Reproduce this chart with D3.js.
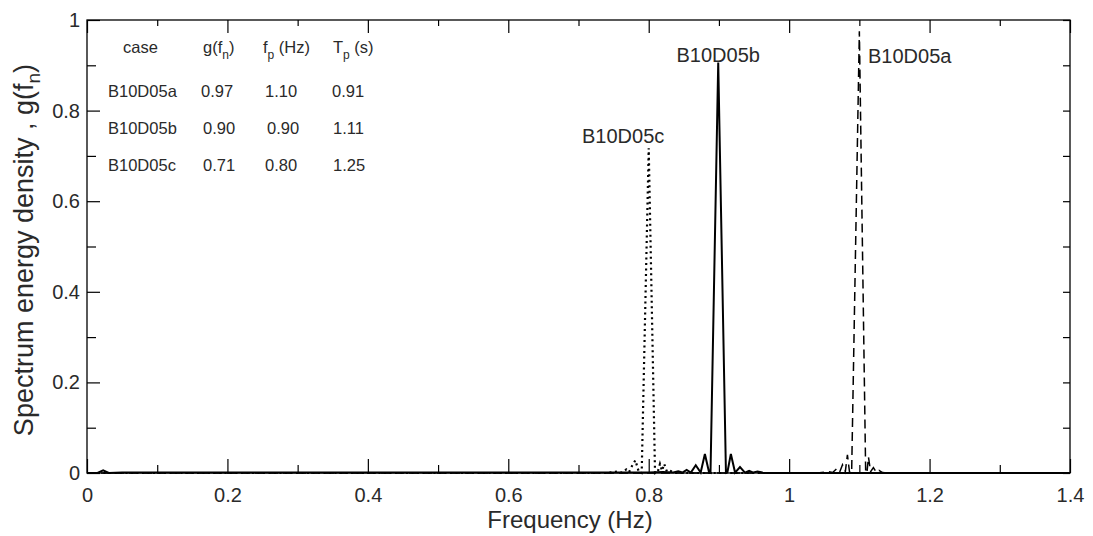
<!DOCTYPE html>
<html lang="en">
<head>
    <meta charset="UTF-8">
    <title>Spectrum energy density</title>
    <script src="https://d3js.org/d3.v7.min.js"></script>
    <style>
        body { margin: 0; background: #fff; }
        text { font-family: "Liberation Sans", Arial, sans-serif; fill: #2a2a2a; }
    </style>
</head>
<body>
    <div id="chart"></div>

    <script>
        // datos
        var xTicks = [0, 0.2, 0.4, 0.6, 0.8, 1, 1.2, 1.4];
        var xTickLabels = ["0", "0.2", "0.4", "0.6", "0.8", "1", "1.2", "1.4"];
        var xMinor = [0.1, 0.3, 0.5, 0.7, 0.9, 1.1, 1.3];
        var yTicks = [0, 0.2, 0.4, 0.6, 0.8, 1];
        var yTickLabels = ["0", "0.2", "0.4", "0.6", "0.8", "1"];
        var yMinor = [0.1, 0.3, 0.5, 0.7, 0.9];

        // B10D05a (dashed)
        var freqA = [0, 1.04, 1.055, 1.062, 1.068, 1.072, 1.076, 1.080, 1.083, 1.086, 1.089, 1.100, 1.109, 1.111, 1.113, 1.116, 1.120, 1.124, 1.128, 1.133, 1.14, 1.4];
        var valA  = [0, 0, 0.003, 0.001, 0.010, 0.002, 0.018, 0.003, 0.040, 0.002, 0, 0.975, 0, 0.004, 0.035, 0.003, 0.012, 0.002, 0.006, 0.001, 0, 0];

        // B10D05b (solid)
        var freqB = [0, 0.015, 0.023, 0.031, 0.05, 0.80, 0.82, 0.835, 0.842, 0.848, 0.854, 0.860, 0.867, 0.874, 0.880, 0.886, 0.888, 0.899, 0.910, 0.912, 0.917, 0.923, 0.930, 0.937, 0.943, 0.949, 0.955, 0.962, 0.97, 1.4];
        var valB  = [0, 0, 0.006, 0, 0.001, 0.001, 0.002, 0.001, 0.004, 0.001, 0.007, 0.001, 0.017, 0.001, 0.042, 0.001, 0, 0.906, 0, 0.001, 0.042, 0.001, 0.013, 0.001, 0.005, 0.001, 0.003, 0.001, 0, 0];

        // B10D05c (dotted)
        var freqC = [0, 0.74, 0.755, 0.762, 0.768, 0.772, 0.776, 0.781, 0.786, 0.790, 0.800, 0.809, 0.813, 0.816, 0.819, 0.822, 0.826, 0.830, 0.84, 1.4];
        var valC  = [0, 0, 0.003, 0.001, 0.008, 0.002, 0.015, 0.028, 0.002, 0, 0.717, 0, 0.003, 0.020, 0.005, 0.020, 0.003, 0.005, 0, 0];

        // tabla de la esquina
        var tableCases = ["B10D05a", "B10D05b", "B10D05c"];
        var tableG  = ["0.97", "0.90", "0.71"];
        var tableFp = ["1.10", "0.90", "0.80"];
        var tableTp = ["0.91", "1.11", "1.25"];

        var width = 1093;
        var height = 536;
        var mLeft = 87, mRight = 1070, mTop = 20, mBottom = 473;

        var svg = d3.select("#chart")
                    .append("svg")
                    .attr("width", width)
                    .attr("height", height);

        var x = d3.scaleLinear().domain([0, 1.4]).range([mLeft, mRight]);
        var y = d3.scaleLinear().domain([0, 1]).range([mBottom, mTop]);

        // curvas
        var line = d3.line()
                     .x(function(d) { return x(d[0]); })
                     .y(function(d) { return y(d[1]); });

        function pairs(f, v) { return f.map(function(d, i) { return [d, v[i]]; }); }

        svg.append("path")
           .datum(pairs(freqA, valA))
           .attr("d", line)
           .attr("fill", "none")
           .attr("stroke", "#000")
           .attr("stroke-width", 1.5)
           .attr("stroke-dasharray", "9,5");

        svg.append("path")
           .datum(pairs(freqC, valC))
           .attr("d", line)
           .attr("fill", "none")
           .attr("stroke", "#000")
           .attr("stroke-width", 2.2)
           .attr("stroke-dasharray", "2,3.5");

        svg.append("path")
           .datum(pairs(freqB, valB))
           .attr("d", line)
           .attr("fill", "none")
           .attr("stroke", "#000")
           .attr("stroke-width", 2);

        // ejes (ticks hacia adentro)
        var fmtX = function(d) { return xTickLabels[xTicks.indexOf(d)]; };
        var fmtY = function(d) { return yTickLabels[yTicks.indexOf(d)]; };

        function styleAxis(g) {
            g.select(".domain").remove();
            g.selectAll("line").attr("stroke", "#000").attr("stroke-width", 1.2);
            g.selectAll("text").attr("font-size", "20px").attr("fill", "#2a2a2a")
             .style("font-family", "'Liberation Sans', Arial, sans-serif");
        }

        svg.append("g").attr("transform", "translate(0," + mBottom + ")")
           .call(d3.axisBottom(x).tickValues(xTicks).tickFormat(fmtX).tickSizeInner(-14).tickSizeOuter(0).tickPadding(15))
           .call(styleAxis);
        svg.append("g").attr("transform", "translate(0," + mBottom + ")")
           .call(d3.axisBottom(x).tickValues(xMinor).tickFormat("").tickSizeInner(-8).tickSizeOuter(0))
           .call(styleAxis);
        svg.append("g").attr("transform", "translate(0," + mTop + ")")
           .call(d3.axisTop(x).tickValues(xTicks).tickFormat("").tickSizeInner(-13).tickSizeOuter(0))
           .call(styleAxis);
        svg.append("g").attr("transform", "translate(0," + mTop + ")")
           .call(d3.axisTop(x).tickValues(xMinor).tickFormat("").tickSizeInner(-6).tickSizeOuter(0))
           .call(styleAxis);

        svg.append("g").attr("transform", "translate(" + mLeft + ",0)")
           .call(d3.axisLeft(y).tickValues(yTicks).tickFormat(fmtY).tickSizeInner(-13).tickSizeOuter(0).tickPadding(7))
           .call(styleAxis);
        svg.append("g").attr("transform", "translate(" + mLeft + ",0)")
           .call(d3.axisLeft(y).tickValues(yMinor).tickFormat("").tickSizeInner(-9).tickSizeOuter(0))
           .call(styleAxis);
        svg.append("g").attr("transform", "translate(" + mRight + ",0)")
           .call(d3.axisRight(y).tickValues(yTicks.concat(yMinor)).tickFormat("").tickSizeInner(-7).tickSizeOuter(0))
           .call(styleAxis);

        // marco
        svg.append("rect")
           .attr("x", mLeft).attr("y", mTop)
           .attr("width", mRight - mLeft).attr("height", mBottom - mTop)
           .attr("fill", "none")
           .attr("stroke", "#000")
           .attr("stroke-width", 1.3);

        // titulos de ejes
        svg.append("text")
           .attr("x", 570)
           .attr("y", 528)
           .attr("text-anchor", "middle")
           .attr("font-size", "24px")
           .text("Frequency (Hz)");

        var yl = svg.append("text")
           .attr("transform", "translate(33,250) rotate(-90)")
           .attr("text-anchor", "middle")
           .attr("font-size", "27px");
        yl.append("tspan").text("Spectrum energy density , g(f");
        yl.append("tspan").attr("font-size", "19px").attr("dy", 7).text("n");
        yl.append("tspan").attr("dy", -7).text(")");

        // etiquetas de las curvas
        svg.append("text").attr("x", x(0.899)).attr("y", 62).attr("text-anchor", "middle")
           .attr("font-size", "20px").text(tableCases[1]);
        svg.append("text").attr("x", 868).attr("y", 63)
           .attr("font-size", "20px").text(tableCases[0]);
        svg.append("text").attr("x", 582).attr("y", 143)
           .attr("font-size", "20px").text(tableCases[2]);

        // tabla
        var fs = "16.5px";
        function sub(t, main, s, rest) {
            t.append("tspan").text(main);
            t.append("tspan").attr("font-size", "12px").attr("dy", 6).text(s);
            t.append("tspan").attr("dy", -6).text(rest);
        }
        svg.append("text").attr("x", 123).attr("y", 53).attr("font-size", fs).text("case");
        sub(svg.append("text").attr("x", 203).attr("y", 53).attr("font-size", fs), "g(f", "n", ")");
        sub(svg.append("text").attr("x", 263).attr("y", 53).attr("font-size", fs), "f", "p", " (Hz)");
        sub(svg.append("text").attr("x", 333).attr("y", 53).attr("font-size", fs), "T", "p", " (s)");

        var rowY = [97, 134, 171];
        tableCases.forEach(function(c, i) {
            svg.append("text").attr("x", 108).attr("y", rowY[i]).attr("font-size", fs).text(c);
            svg.append("text").attr("x", i === 0 ? 201 : 203).attr("y", rowY[i]).attr("font-size", fs).text(tableG[i]);
            svg.append("text").attr("x", i === 1 ? 267 : 265).attr("y", rowY[i]).attr("font-size", fs).text(tableFp[i]);
            svg.append("text").attr("x", i === 0 ? 332 : 333).attr("y", rowY[i]).attr("font-size", fs).text(tableTp[i]);
        });
    </script>
</body>
</html>
